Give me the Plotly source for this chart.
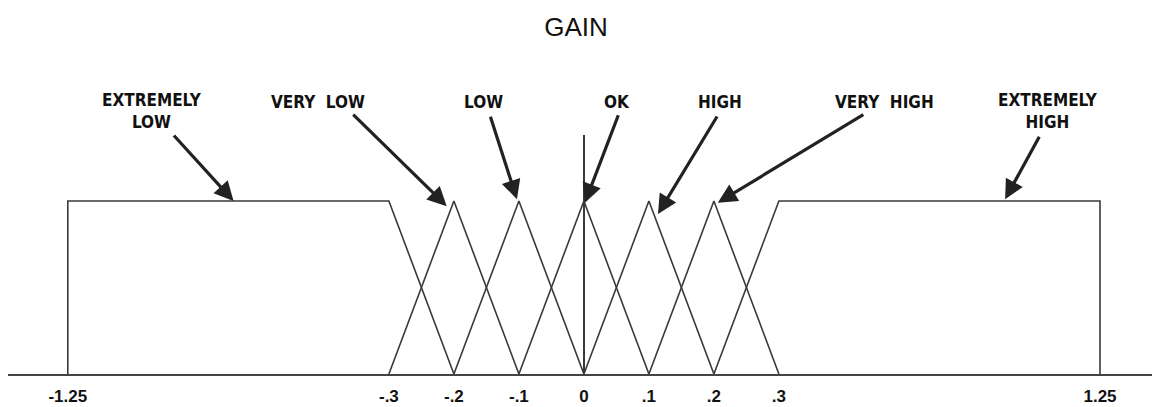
import plotly.graph_objects as go

# ---- data (real GAIN values and membership degrees) ----
set_names = ["EXTREMELY LOW", "VERY LOW", "LOW", "OK", "HIGH", "VERY HIGH", "EXTREMELY HIGH"]
ext_low_x = [-1.25, -1.25, -0.3, -0.2]
ext_low_y = [0, 1, 1, 0]
very_low_x = [-0.3, -0.2, -0.1]
low_x = [-0.2, -0.1, 0.0]
ok_x = [-0.1, 0.0, 0.1]
high_x = [0.0, 0.1, 0.2]
very_high_x = [0.1, 0.2, 0.3]
tri_y = [0, 1, 0]
ext_high_x = [0.2, 0.3, 1.25, 1.25]
ext_high_y = [0, 1, 1, 0]

tick_values = [-1.25, -0.3, -0.2, -0.1, 0.0, 0.1, 0.2, 0.3, 1.25]
tick_labels = ["-1.25", "-.3", "-.2", "-.1", "0", ".1", ".2", ".3", "1.25"]

# broken scale: linear in [-0.3, 0.3], compressed outside
K_OUT = 0.52


def T(v):
    if abs(v) <= 0.3:
        return v
    s = 1 if v > 0 else -1
    return s * (0.3 + (abs(v) - 0.3) * K_OUT)


series = [
    (ext_low_x, ext_low_y),
    (very_low_x, tri_y),
    (low_x, tri_y),
    (ok_x, tri_y),
    (high_x, tri_y),
    (very_high_x, tri_y),
    (ext_high_x, ext_high_y),
]

LINE = "#3a3a3a"
fig = go.Figure()
for name, (xs, ys) in zip(set_names, series):
    fig.add_trace(go.Scatter(x=[T(v) for v in xs], y=ys, mode="lines", name=name,
                             line=dict(color=LINE, width=1.6), showlegend=False,
                             cliponaxis=False))

LABEL_FONT = dict(family="Liberation Sans Narrow, DejaVu Sans Condensed, Arial", size=17, color="#111")

# label text positions (display x, paper y) and arrow tips
labels = [
    ("<b>EXTREMELY<br>LOW</b>", -0.665, 1.10),
    ("<b>VERY  LOW</b>", -0.409, 1.138),
    ("<b>LOW</b>", -0.155, 1.138),
    ("<b>OK</b>", 0.051, 1.138),
    ("<b>HIGH</b>", 0.209, 1.138),
    ("<b>VERY  HIGH</b>", 0.463, 1.138),
    ("<b>EXTREMELY<br>HIGH</b>", 0.714, 1.10),
]
arrows = [
    (-0.539, 1.00, -61, -67),
    (-0.211, 0.97, -95, -93),
    (-0.103, 1.01, -27, -84),
    (0.0015, 0.99, 34, -89),
    (0.114, 0.925, 60, -99),
    (0.206, 0.99, 147, -89),
    (0.648, 1.01, 35, -64),
]

for txt, lx, ly in labels:
    fig.add_annotation(x=lx, y=ly, xref="x", yref="paper", text=txt, showarrow=False,
                       font=LABEL_FONT, align="center", xanchor="center", yanchor="middle")
for tx, ty, ax, ay in arrows:
    fig.add_annotation(x=tx, y=ty, xref="x", yref="y", text="", showarrow=True,
                       ax=ax, ay=ay, arrowhead=2, arrowsize=1.2, arrowwidth=3.2,
                       arrowcolor="#222")

fig.update_layout(
    width=1152, height=407,
    margin=dict(l=8, r=0, t=135, b=33),
    paper_bgcolor="white", plot_bgcolor="white",
    title=dict(text="GAIN", x=576 / 1152, xanchor="center", y=1 - 27 / 407,
               yanchor="middle", xref="container", yref="container",
               font=dict(family="Liberation Sans, Arial", size=26, color="#111")),
    xaxis=dict(range=[-0.886, 0.874], showgrid=False, zeroline=True,
               zerolinecolor=LINE, zerolinewidth=1.6,
               showline=True, linecolor="#444", linewidth=2,
               tickmode="array", tickvals=[T(v) for v in tick_values],
               ticktext=["<b>" + t + "</b>" for t in tick_labels],
               ticks="", tickfont=dict(family="Liberation Sans, Arial", size=17, color="#111"),
               ticklabelstandoff=6, fixedrange=True),
    yaxis=dict(range=[0, 239 / 173], visible=False, showgrid=False, zeroline=False,
               fixedrange=True),
)

fig.write_html("out.html", config={"displayModeBar": False},
               post_script="document.body.style.margin='0';document.body.style.overflow='hidden';")
